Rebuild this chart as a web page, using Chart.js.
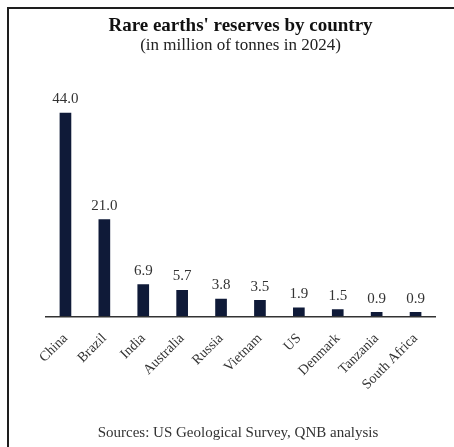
<!DOCTYPE html>
<html>
<head>
<meta charset="utf-8">
<script src="https://cdn.jsdelivr.net/npm/chart.js@4/dist/chart.umd.min.js"></script>
<style>
  html, body { margin: 0; padding: 0; background: #fff; overflow: hidden; }
  #wrap { position: relative; width: 454px; height: 447px; }
  #frame { position: absolute; left: 7px; top: 7px; width: 480px; height: 480px;
           border-left: 2px solid #1e1e1e; border-top: 2px solid #1e1e1e; box-sizing: border-box; }
  canvas { position: absolute; left: 0; top: 0; }
</style>
</head>
<body>
<div id="wrap">
  <div id="frame"></div>
  <canvas id="c" width="454" height="447"></canvas>
</div>
<script>
const categories = ["China", "Brazil", "India", "Australia", "Russia", "Vietnam", "US", "Denmark", "Tanzania", "South Africa"];
const reserves = [44.0, 21.0, 6.9, 5.7, 3.8, 3.5, 1.9, 1.5, 0.9, 0.9];
const titleText = "Rare earths' reserves by country";
const subtitleText = "(in million of tonnes in 2024)";
const sourceText = "Sources: US Geological Survey, QNB analysis";

const FONT = "'Liberation Serif', 'Times New Roman', serif";

const valueLabels = {
  id: 'valueLabels',
  afterDatasetsDraw(chart) {
    const ctx = chart.ctx;
    const meta = chart.getDatasetMeta(0);
    ctx.save();
    ctx.font = "15px " + FONT;
    ctx.fillStyle = "#333";
    ctx.textAlign = "center";
    ctx.textBaseline = "bottom";
    meta.data.forEach((bar, i) => {
      ctx.fillText(reserves[i].toFixed(1), bar.x, bar.y - 6);
    });
    ctx.restore();
  }
};

const sourceNote = {
  id: 'sourceNote',
  afterDraw(chart) {
    const ctx = chart.ctx;
    ctx.save();
    ctx.font = "15px " + FONT;
    ctx.fillStyle = "#333";
    ctx.textAlign = "center";
    ctx.textBaseline = "middle";
    ctx.fillText(sourceText, 238, 433);
    ctx.restore();
  }
};

new Chart(document.getElementById('c'), {
  type: 'bar',
  data: {
    labels: categories,
    datasets: [{
      data: reserves,
      backgroundColor: '#0f1a38',
      borderWidth: 0,
      barPercentage: 0.3,
      categoryPercentage: 1.0
    }]
  },
  options: {
    responsive: false,
    animation: false,
    devicePixelRatio: 1,
    layout: { padding: { left: 46, right: 19, top: 0, bottom: 48 } },
    plugins: {
      legend: { display: false },
      tooltip: { enabled: false },
      title: {
        display: true,
        text: titleText,
        color: '#111',
        font: { family: FONT, size: 19, weight: 'bold' },
        padding: { top: 15, bottom: 0 }
      },
      subtitle: {
        display: true,
        text: subtitleText,
        color: '#222',
        font: { family: FONT, size: 17, lineHeight: 0.9 },
        padding: { top: 0, bottom: 20 }
      }
    },
    scales: {
      x: {
        grid: { display: false },
        border: { display: true, color: '#333', width: 1.5 },
        ticks: {
          color: '#333',
          font: { family: FONT, size: 14 },
          minRotation: 45,
          maxRotation: 45,
          autoSkip: false,
          padding: 6
        }
      },
      y: {
        display: false,
        min: 0,
        max: 52.6
      }
    }
  },
  plugins: [valueLabels, sourceNote]
});
</script>
</body>
</html>
